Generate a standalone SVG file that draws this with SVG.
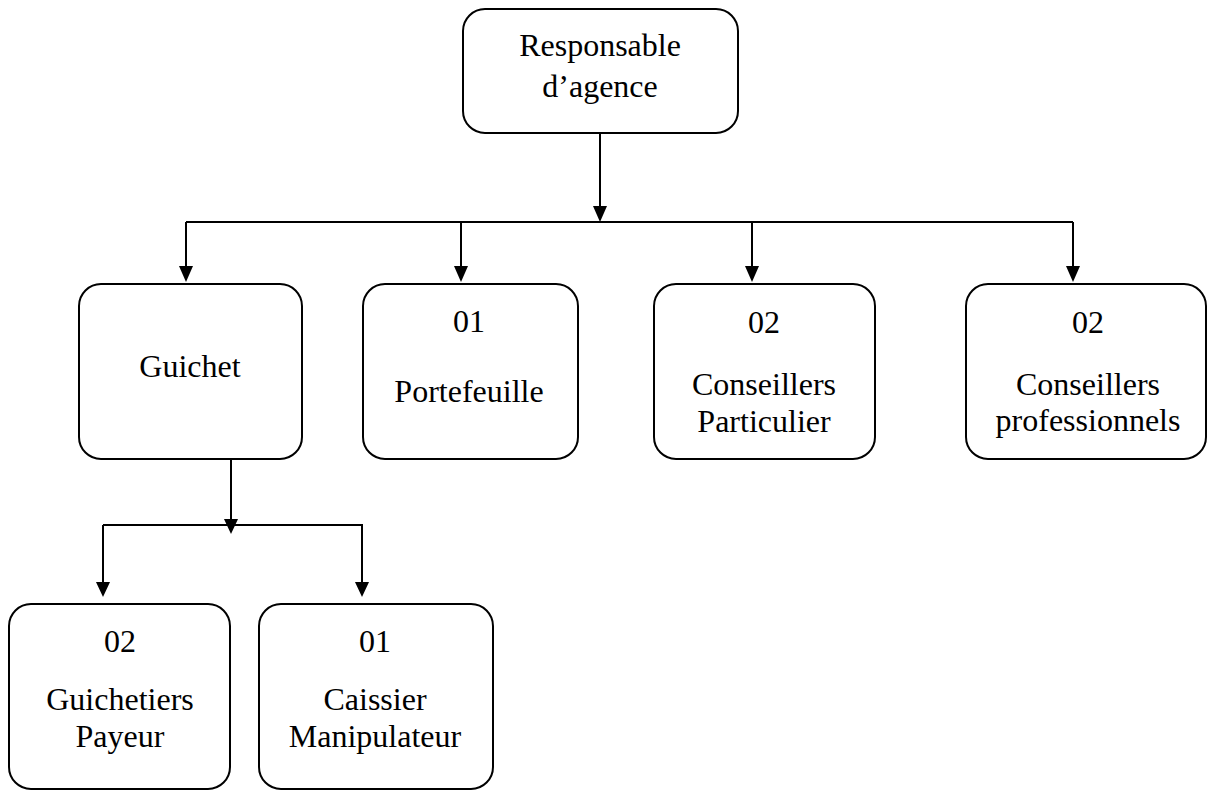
<svg xmlns="http://www.w3.org/2000/svg" width="1207" height="790" viewBox="0 0 1207 790">
<style>
.box{fill:#fff;stroke:#000;stroke-width:2}
.t{font-family:"Liberation Serif","Times New Roman",serif;font-size:32px;fill:#000;text-anchor:middle}
.c{fill:none;stroke:#000;stroke-width:2}
.ah{fill:#000}
</style>
<rect width="1207" height="790" fill="#fff"/>
<g id="connectors">
<path class="c" d="M600,133 V212"/>
<path class="c" d="M186,222 H1073"/>
<path class="c" d="M186,222 V272"/>
<path class="c" d="M461,222 V272"/>
<path class="c" d="M752,222 V272"/>
<path class="c" d="M1073,222 V272"/>
<path class="c" d="M231,459 V524"/>
<path class="c" d="M103,525 H362 V587 M103,525 V587"/>
<path class="ah" d="M593,206 L607,206 L600,222 Z"/>
<path class="ah" d="M179,266 L193,266 L186,282 Z"/>
<path class="ah" d="M454,266 L468,266 L461,282 Z"/>
<path class="ah" d="M745,266 L759,266 L752,282 Z"/>
<path class="ah" d="M1066,266 L1080,266 L1073,282 Z"/>
<path class="ah" d="M224,519 L238,519 L231,534 Z"/>
<path class="ah" d="M96,582 L110,582 L103,597 Z"/>
<path class="ah" d="M355,582 L369,582 L362,597 Z"/>
</g>
<g id="n-responsable">
<rect class="box" x="463" y="9" width="275" height="124" rx="22"/>
<text class="t" x="600" y="56">Responsable</text>
<text class="t" x="600" y="97">d’agence</text>
</g>
<g id="n-guichet">
<rect class="box" x="79" y="284" width="223" height="175" rx="22"/>
<text class="t" x="190" y="377">Guichet</text>
</g>
<g id="n-portefeuille">
<rect class="box" x="363" y="284" width="215" height="175" rx="22"/>
<text class="t" x="469" y="332">01</text>
<text class="t" x="469" y="402">Portefeuille</text>
</g>
<g id="n-particulier">
<rect class="box" x="654" y="284" width="221" height="175" rx="22"/>
<text class="t" x="764" y="333">02</text>
<text class="t" x="764" y="395">Conseillers</text>
<text class="t" x="764" y="432">Particulier</text>
</g>
<g id="n-professionnels">
<rect class="box" x="966" y="284" width="240" height="175" rx="22"/>
<text class="t" x="1088" y="333">02</text>
<text class="t" x="1088" y="395">Conseillers</text>
<text class="t" x="1088" y="431">professionnels</text>
</g>
<g id="n-guichetiers">
<rect class="box" x="9" y="604" width="221" height="185" rx="22"/>
<text class="t" x="120" y="652">02</text>
<text class="t" x="120" y="710">Guichetiers</text>
<text class="t" x="120" y="747">Payeur</text>
</g>
<g id="n-caissier">
<rect class="box" x="259" y="604" width="234" height="185" rx="22"/>
<text class="t" x="375" y="652">01</text>
<text class="t" x="375" y="710">Caissier</text>
<text class="t" x="375" y="747">Manipulateur</text>
</g>
</svg>
